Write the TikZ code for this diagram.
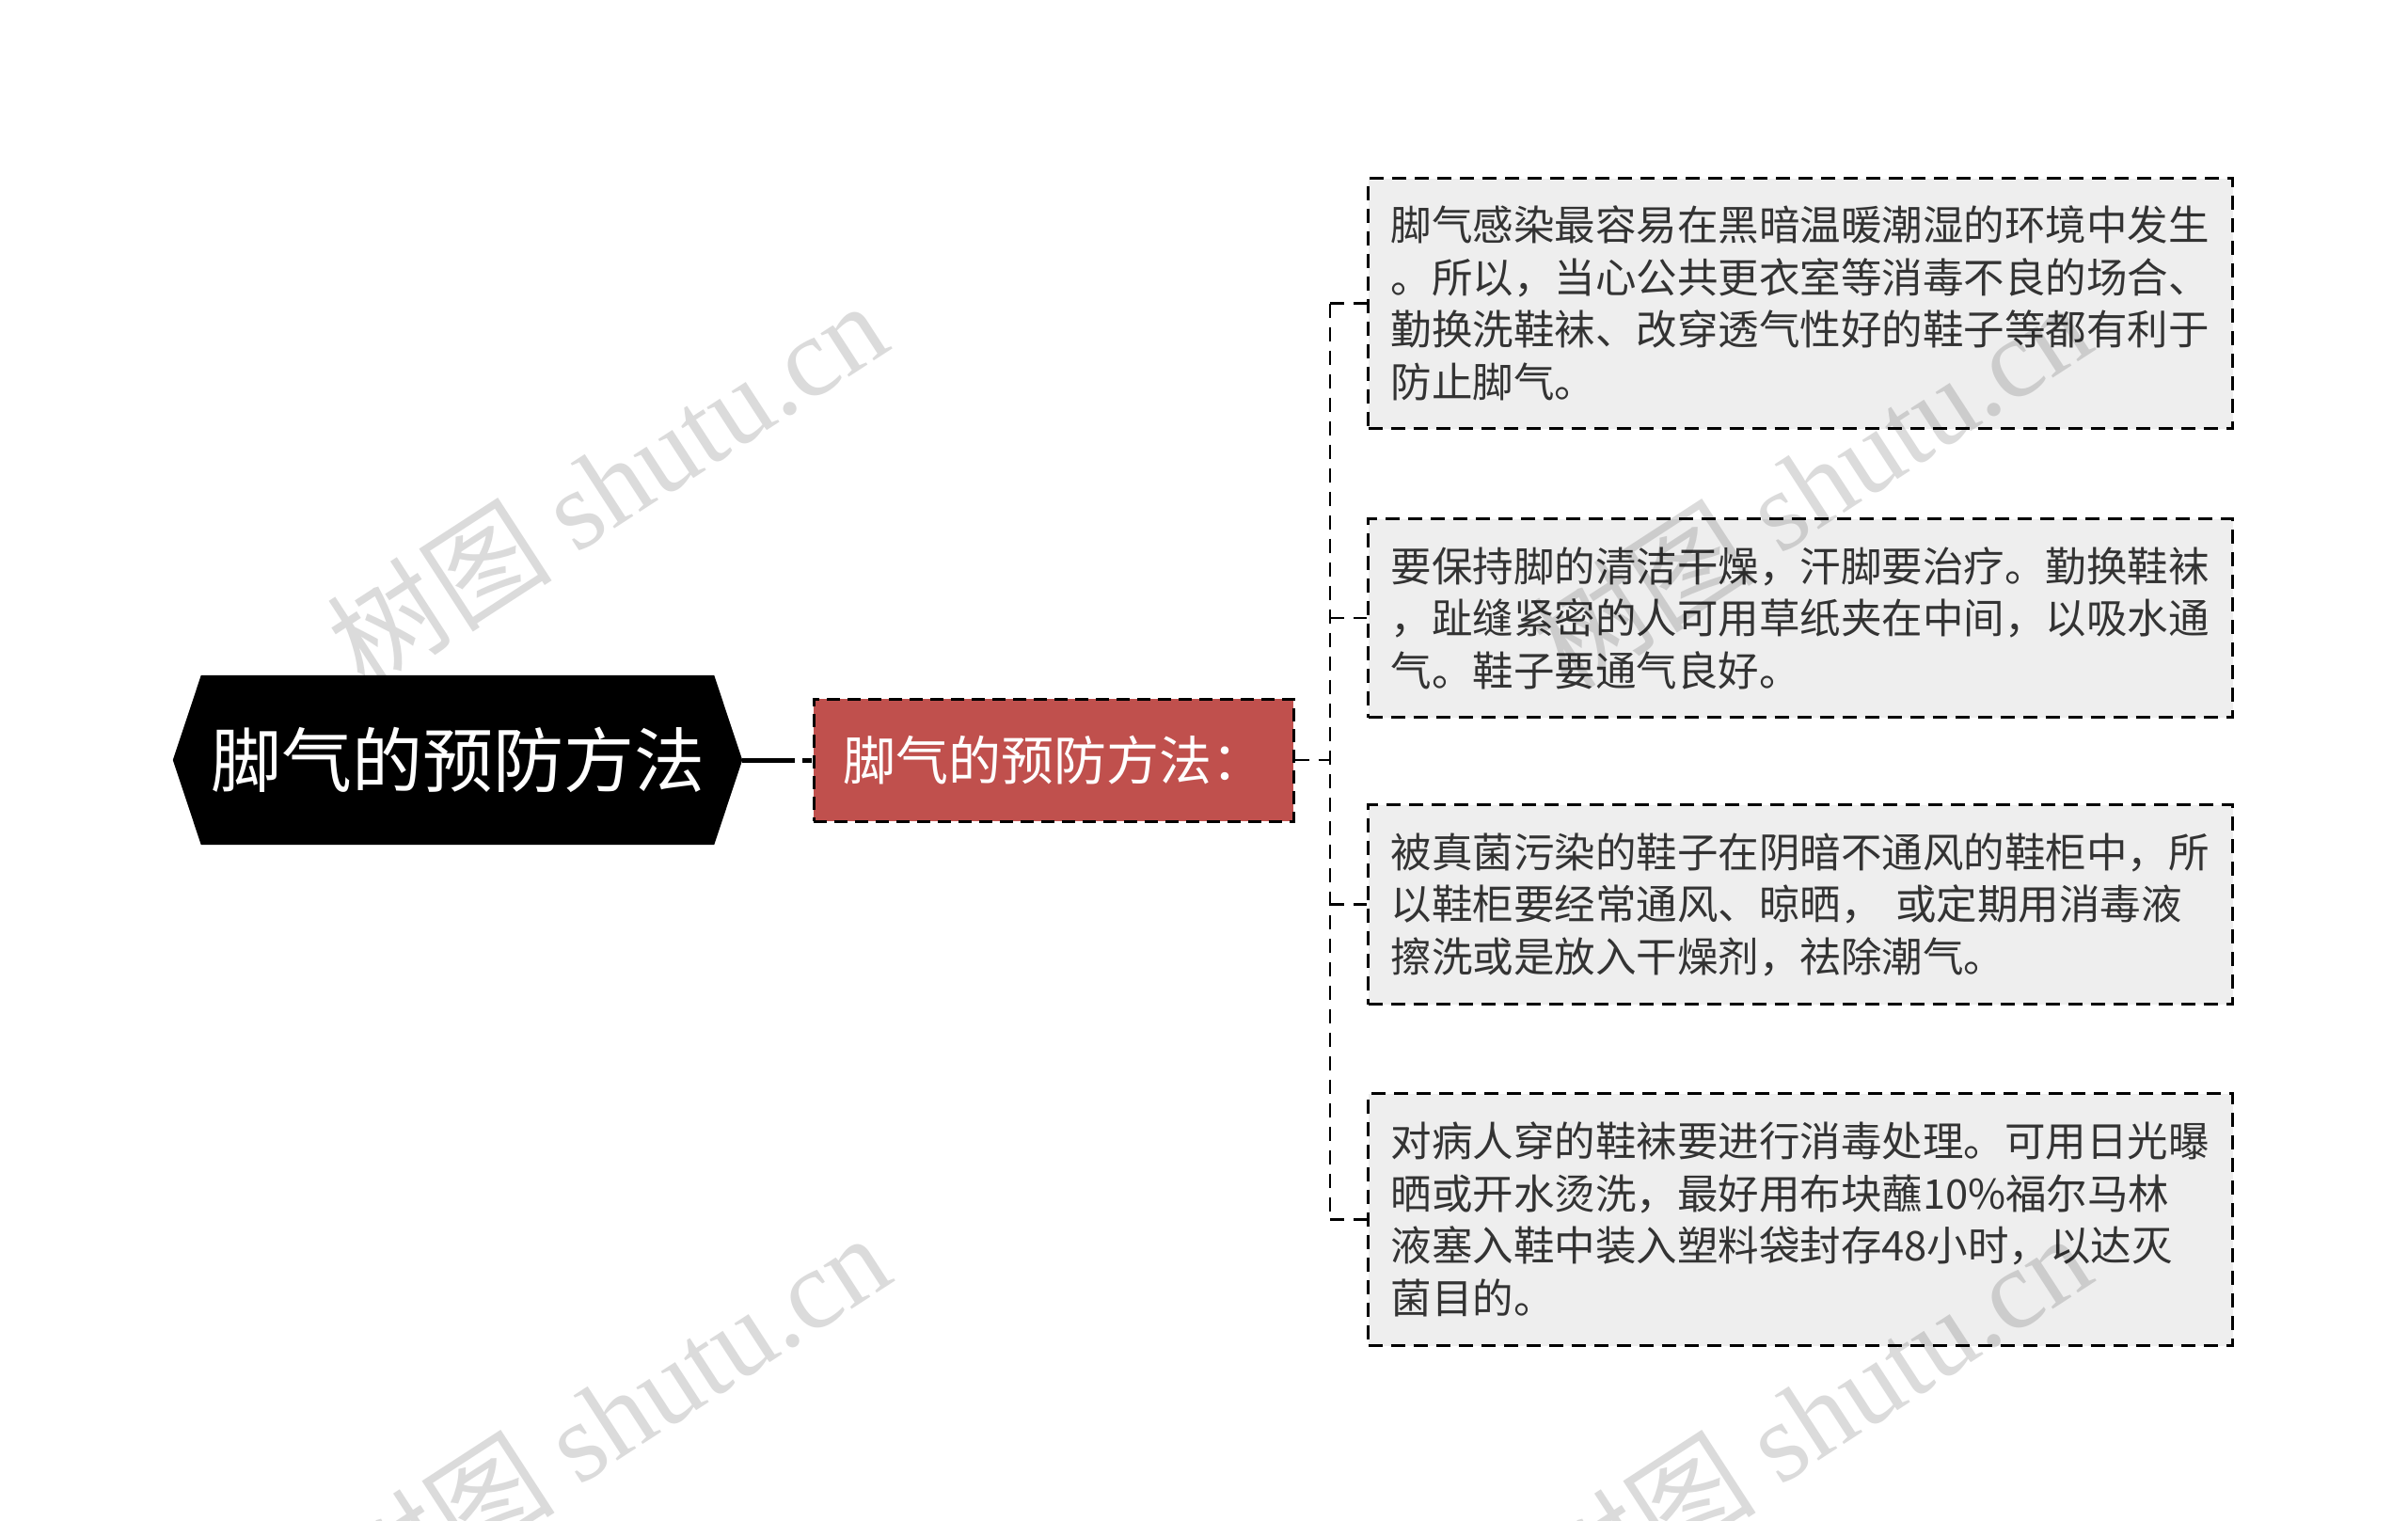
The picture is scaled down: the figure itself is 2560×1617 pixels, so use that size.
\documentclass[tikz,border=0pt]{standalone}
\usepackage{fontspec}
\setmainfont{Noto Sans CJK SC}
\newfontfamily\cjk{Noto Sans CJK SC}
\newfontfamily\wmserif{Liberation Serif}
\usetikzlibrary{backgrounds,calc}
\definecolor{midred}{HTML}{C0504D}
\definecolor{leafgray}{HTML}{EEEEEE}
\definecolor{leaftext}{HTML}{333333}
\tikzset{
  rootbox/.style={text=white, inner sep=0pt, minimum width=545pt, minimum height=180pt,
    font=\fontsize{75}{90}\selectfont},
  midbox/.style={fill=midred, draw=black, line width=3pt, dash pattern=on 14pt off 8pt,
    text=white, inner sep=0pt, minimum width=510pt, minimum height=130pt,
    font=\fontsize{56}{66}\selectfont},
  leafbox/.style={fill=leafgray, draw=black, line width=3pt, dash pattern=on 15pt off 9pt,
    text=leaftext, anchor=north west, inner xsep=24pt, inner ysep=0pt, text width=871pt,
    align=left, font=\fontsize{43.5}{55.5}\selectfont},
  conn/.style={draw=black, line width=2.6pt, dash pattern=on 15pt off 10pt},
  rootconn/.style={draw=black, line width=5pt, dash pattern=on 56pt off 8pt on 10pt off 8pt},
  wm/.style={text=black, opacity=0.14, rotate=33, font=\fontsize{120}{130}\selectfont}
}
\begin{document}
\begin{tikzpicture}[x=1pt,y=-1pt]
\useasboundingbox (0,0) rectangle (2560,1617);

% root
\node[rootbox] (root) at (486.5,808) {脚气的预防方法};
\coordinate (rootL) at ($(root.west)+(-30,0)$);
\coordinate (rootR) at ($(root.east)+(30,0)$);
\begin{pgfonlayer}{background}
\fill[white] (0,0) rectangle (2560,1617);
\fill[black] (root.north west) -- (root.north east) -- (rootR) -- (root.south east)
  -- (root.south west) -- (rootL) -- cycle;
\end{pgfonlayer}

% middle
\node[midbox] (mid) at (1120,808) {脚气的预防方法：};

% leaves
\node[leafbox, minimum height=266pt] (l1) at (1453,188) {脚气感染最容易在黑暗温暖潮湿的环境中发生\\。所以，当心公共更衣室等消毒不良的场合、\\勤换洗鞋袜、改穿透气性好的鞋子等都有利于\\防止脚气。};
\node[leafbox, minimum height=211pt] (l2) at (1453,550) {要保持脚的清洁干燥，汗脚要治疗。勤换鞋袜\\，趾缝紧密的人可用草纸夹在中间，以吸水通\\气。鞋子要通气良好。};
\node[leafbox, minimum height=212pt] (l3) at (1453,854) {被真菌污染的鞋子在阴暗不通风的鞋柜中，所\\以鞋柜要经常通风、晾晒， 或定期用消毒液\\擦洗或是放入干燥剂，祛除潮气。};
\node[leafbox, minimum height=268pt] (l4) at (1453,1161) {对病人穿的鞋袜要进行消毒处理。可用日光曝\\晒或开水烫洗，最好用布块蘸10\%福尔马林\\液塞入鞋中装入塑料袋封存48小时，以达灭\\菌目的。};

% connectors
\draw[rootconn] (rootR) -- (mid.west);
\coordinate (bx) at (1414,808);
\draw[conn] (mid.east) -- (bx);
\draw[conn] (bx |- l1.west) -- (bx |- l4.west);
\draw[conn] (bx |- l1.west) -- (l1.west);
\draw[conn] (bx |- l2.west) -- (l2.west);
\draw[conn] (bx |- l3.west) -- (l3.west);
\draw[conn] (bx |- l4.west) -- (l4.west);

% watermarks
\node[wm] (wm1) at (645,514) {{\cjk 树图} {\wmserif shutu.cn}};
\node[wm] (wm2) at (648,1505) {{\cjk 树图} {\wmserif shutu.cn}};
\node[wm] (wm3) at (1925,515) {{\cjk 树图} {\wmserif shutu.cn}};
\node[wm] (wm4) at (1925,1505) {{\cjk 树图} {\wmserif shutu.cn}};
\end{tikzpicture}
\end{document}
